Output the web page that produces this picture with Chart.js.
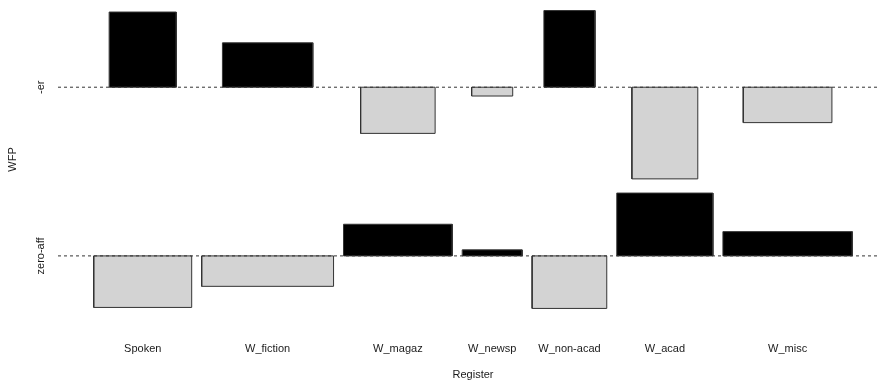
<!DOCTYPE html>
<html>
<head>
<meta charset="utf-8">
<script src="https://cdn.jsdelivr.net/npm/chart.js@4.4.1/dist/chart.umd.min.js"></script>
<style>
  html, body { margin: 0; padding: 0; background: #fff; overflow: hidden; width: 877px; height: 381px; }
  #wrap { position: absolute; left: 0; top: -9px; width: 888px; height: 390px; }
</style>
</head>
<body>
<div id="wrap"><canvas id="c" width="888" height="390"></canvas></div>
<script>
// Register (x) by word-formation process (y): observed frequencies
const registers = ['Spoken', 'W_fiction', 'W_magaz', 'W_newsp', 'W_non-acad', 'W_acad', 'W_misc'];
const wfpLevels = ['-er', 'zero-aff'];
const countsEr      = [221, 319, 119,  47, 144,  40, 196];
const countsZeroAff = [220, 480, 424, 118, 112, 385, 573];

const space = 0.1;                          // gap between boxes, relative to mean box size
const posColor = '#000000', negColor = '#d3d3d3';

// ---- association plot geometry (Cohen-Friendly) ----
const observed = [countsEr, countsZeroAff];
const sum = a => a.reduce((s, v) => s + v, 0);
const rowTot = observed.map(sum);
const colTot = registers.map((_, j) => observed[0][j] + observed[1][j]);
const N = sum(rowTot);
const sqrtE = observed.map((r, i) => r.map((_, j) => Math.sqrt(rowTot[i] * colTot[j] / N)));
const resid = observed.map((r, i) => r.map((o, j) => (o - sqrtE[i][j] ** 2) / sqrtE[i][j]));

// the last level of WFP sits at the bottom
const yOrder = [1, 0];
const xW = registers.map((_, j) => Math.max(sqrtE[0][j], sqrtE[1][j]));
const yH = yOrder.map(i => Math.max(...resid[i]) - Math.min(...resid[i]));
const xDelta = sum(xW) / xW.length * space;
const yDelta = sum(yH) / yH.length * space;
const xLim = sum(xW) + registers.length * xDelta;
const yLim = sum(yH) + yOrder.length * yDelta;

const xM = [];
let acc = 0;
xW.forEach(w => { const prev = acc; acc += w + xDelta; xM.push((prev + acc) / 2); });
const yM = [];           // baseline for each WFP level (indexed like wfpLevels)
acc = 0;
yOrder.forEach((i, k) => {
  acc += yH[k] + yDelta;
  yM[i] = acc - Math.max(0, ...resid[i]) - yDelta / 2;
});

const xMin = -0.04 * xLim, xMax = 1.04 * xLim;
const yMin = -0.04 * yLim, yMax = 1.04 * yLim;

const datasets = [];
observed.forEach((row, i) => {
  row.forEach((_, j) => {
    const x0 = xM[j] - sqrtE[i][j] / 2, x1 = xM[j] + sqrtE[i][j] / 2;
    const base = yM[i], top = yM[i] + resid[i][j];
    // box body: top edge filled down to the baseline
    datasets.push({
      data: [{ x: x0, y: top }, { x: x1, y: top }],
      fill: { value: base },
      backgroundColor: resid[i][j] < 0 ? negColor : posColor,
      borderColor: 'rgba(0,0,0,0)', borderWidth: 0,
      pointRadius: 0, tension: 0, order: 2
    });
    // box outline
    datasets.push({
      data: [{ x: x0, y: base }, { x: x0, y: top }, { x: x1, y: top }, { x: x1, y: base }, { x: x0, y: base }],
      fill: false, borderColor: '#333', borderWidth: 1,
      pointRadius: 0, tension: 0, order: 1
    });
  });
});
// dashed baselines
yM.forEach(b => {
  datasets.push({
    data: [{ x: xMin, y: b }, { x: xMax, y: b }],
    fill: false, borderColor: '#333', borderWidth: 1, borderDash: [3, 3],
    pointRadius: 0, order: 0
  });
});

const fontFamily = '"Liberation Sans", Arial, sans-serif';
Chart.defaults.font.family = fontFamily;
Chart.defaults.font.size = 11;
Chart.defaults.color = '#1a1a1a';

const yLevelLabels = {
  id: 'yLevelLabels',
  afterDraw(chart) {
    const { ctx } = chart;
    const ys = chart.scales.y;
    ctx.save();
    ctx.font = '11px ' + fontFamily;
    ctx.fillStyle = '#1a1a1a';
    ctx.textAlign = 'center';
    ctx.textBaseline = 'alphabetic';
    wfpLevels.forEach((lab, i) => {
      ctx.save();
      ctx.translate(43.5, ys.getPixelForValue(yM[i]));
      ctx.rotate(-Math.PI / 2);
      ctx.fillText(lab, 0, 0);
      ctx.restore();
    });
    ctx.restore();
  }
};

new Chart(document.getElementById('c'), {
  type: 'line',
  data: { datasets },
  options: {
    responsive: false,
    animation: false,
    devicePixelRatio: 1,
    layout: { padding: 0 },
    plugins: { legend: { display: false }, tooltip: { enabled: false } },
    scales: {
      x: {
        type: 'linear', min: xMin, max: xMax,
        grid: { display: false, drawTicks: false },
        border: { display: false },
        afterBuildTicks: s => { s.ticks = xM.map(v => ({ value: v })); },
        afterFit: s => { s.height = 53; },
        ticks: { autoSkip: false, maxRotation: 0, padding: 14.5, callback: (v, idx) => registers[idx] },
        title: { display: true, text: 'Register', padding: { top: 0, bottom: -0.5 } }
      },
      y: {
        type: 'linear', min: yMin, max: yMax,
        grid: { display: false, drawTicks: false },
        border: { display: false },
        ticks: { display: false },
        afterFit: s => { s.width = 58; },
        title: { display: true, text: 'WFP', padding: { top: 6, bottom: 0 } }
      }
    }
  },
  plugins: [yLevelLabels]
});
</script>
</body>
</html>
